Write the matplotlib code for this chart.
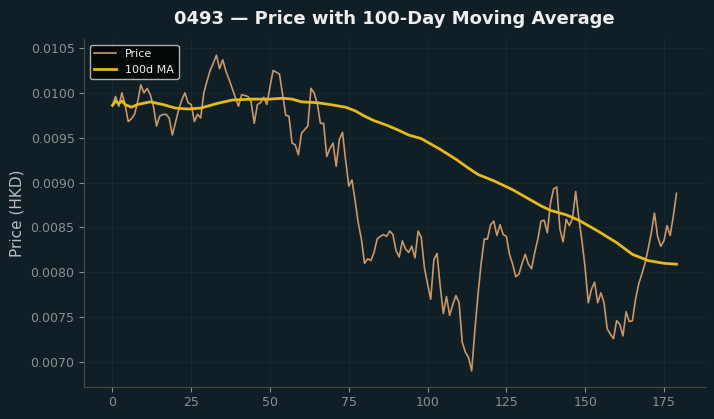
import numpy as np
import matplotlib
matplotlib.use("Agg")
import matplotlib.pyplot as plt
from matplotlib.ticker import FormatStrFormatter

# price values, one per trading day (day 0..179)
price = [
    0.00986, 0.00996, 0.00985, 0.01000, 0.00987, 0.00968, 0.00971, 0.00976, 0.00990, 0.01009,
    0.01000, 0.01005, 0.00998, 0.00985, 0.00963, 0.00974, 0.00976, 0.00976, 0.00972, 0.00953,
    0.00967, 0.00981, 0.00992, 0.01000, 0.00989, 0.00987, 0.00968, 0.00976, 0.00972, 0.01000,
    0.01013, 0.01025, 0.01033, 0.01042, 0.01027, 0.01037, 0.01024, 0.01015, 0.01005, 0.00995,
    0.00985, 0.00998, 0.00997, 0.00996, 0.00990, 0.00966, 0.00987, 0.00989, 0.00995, 0.00987,
    0.01007, 0.01025, 0.01023, 0.01021, 0.00998, 0.00975, 0.00974, 0.00944, 0.00942, 0.00931,
    0.00955, 0.00959, 0.00963, 0.01005, 0.01000, 0.00988, 0.00966, 0.00966, 0.00929, 0.00938,
    0.00944, 0.00918, 0.00948, 0.00956, 0.00925, 0.00896, 0.00903, 0.00880, 0.00855, 0.00837,
    0.00810, 0.00815, 0.00813, 0.00822, 0.00837, 0.00840, 0.00842, 0.00840, 0.00846, 0.00842,
    0.00824, 0.00817, 0.00835, 0.00826, 0.00822, 0.00829, 0.00816, 0.00846, 0.00839, 0.00805,
    0.00787, 0.00770, 0.00814, 0.00821, 0.00785, 0.00754, 0.00773, 0.00752, 0.00764, 0.00774,
    0.00766, 0.00722, 0.00711, 0.00705, 0.00690, 0.00735, 0.00775, 0.00810, 0.00837, 0.00837,
    0.00853, 0.00857, 0.00841, 0.00853, 0.00842, 0.00840, 0.00820, 0.00809, 0.00795, 0.00798,
    0.00810, 0.00820, 0.00809, 0.00804, 0.00822, 0.00837, 0.00857, 0.00858, 0.00844, 0.00877,
    0.00893, 0.00895, 0.00848, 0.00834, 0.00859, 0.00852, 0.00860, 0.00890, 0.00860, 0.00835,
    0.00805, 0.00766, 0.00781, 0.00789, 0.00766, 0.00777, 0.00766, 0.00737, 0.00731, 0.00726,
    0.00746, 0.00742, 0.00729, 0.00756, 0.00745, 0.00746, 0.00770, 0.00787, 0.00798, 0.00810,
    0.00826, 0.00844, 0.00866, 0.00840, 0.00829, 0.00835, 0.00852, 0.00841, 0.00863, 0.00888,
]
days = np.arange(len(price))

# 100-day moving average at these days
ma_days = [0, 1, 2, 3, 4, 6, 8, 12, 16, 20, 24, 28, 33, 38, 44, 50, 54, 57, 60, 65,
           69, 74, 77, 80, 83, 87, 91, 94, 98, 104, 109, 113, 116, 121, 127, 132, 136,
           139, 144, 148, 154, 160, 165, 170, 175, 179]
ma_vals = [0.00986, 0.00991, 0.00988, 0.00991, 0.00987, 0.00984, 0.00987, 0.00990, 0.00987,
           0.00983, 0.00982, 0.00983, 0.00988, 0.00992, 0.00993, 0.00993, 0.00994, 0.00993,
           0.00990, 0.00989, 0.00987, 0.00984, 0.00980, 0.00974, 0.00969, 0.00964, 0.00958,
           0.00953, 0.00949, 0.00937, 0.00926, 0.00916, 0.00909, 0.00902, 0.00892, 0.00882,
           0.00874, 0.00869, 0.00864, 0.00858, 0.00846, 0.00833, 0.00820, 0.00813, 0.00810,
           0.00809]

bg = '#0f1f25'
fig, ax = plt.subplots(figsize=(7.14, 4.19), dpi=100)
fig.patch.set_facecolor(bg)
ax.set_facecolor(bg)
fig.subplots_adjust(left=0.118, right=0.987, bottom=0.077, top=0.906)

ax.plot(days, price, color='#c8976a', linewidth=1.2, label='Price')
ax.plot(ma_days, ma_vals, color='#e3b91e', linewidth=2, label='100d MA')

ax.set_title('0493 — Price with 100-Day Moving Average', color='#eeeeee',
             fontsize=13, fontweight='bold', pad=11)
ax.set_ylabel('Price (HKD)', color='#b9bdc0', fontsize=11)
ax.yaxis.set_major_formatter(FormatStrFormatter('%.4f'))
ax.set_xticks([0, 25, 50, 75, 100, 125, 150, 175])

ax.tick_params(colors='#8a9095', labelsize=9)
for s in ['top', 'right']:
    ax.spines[s].set_visible(False)
for s in ['left', 'bottom']:
    ax.spines[s].set_color('#4b4a45')
ax.grid(True, color='#25333a', alpha=0.5, linewidth=0.6)
ax.set_axisbelow(True)

leg = ax.legend(loc='upper left', fontsize=8, facecolor='#050808',
                edgecolor='#b0b0b0', framealpha=1.0)
for t in leg.get_texts():
    t.set_color('#eeeeee')

fig.savefig('out.png', dpi=100, facecolor=bg)
